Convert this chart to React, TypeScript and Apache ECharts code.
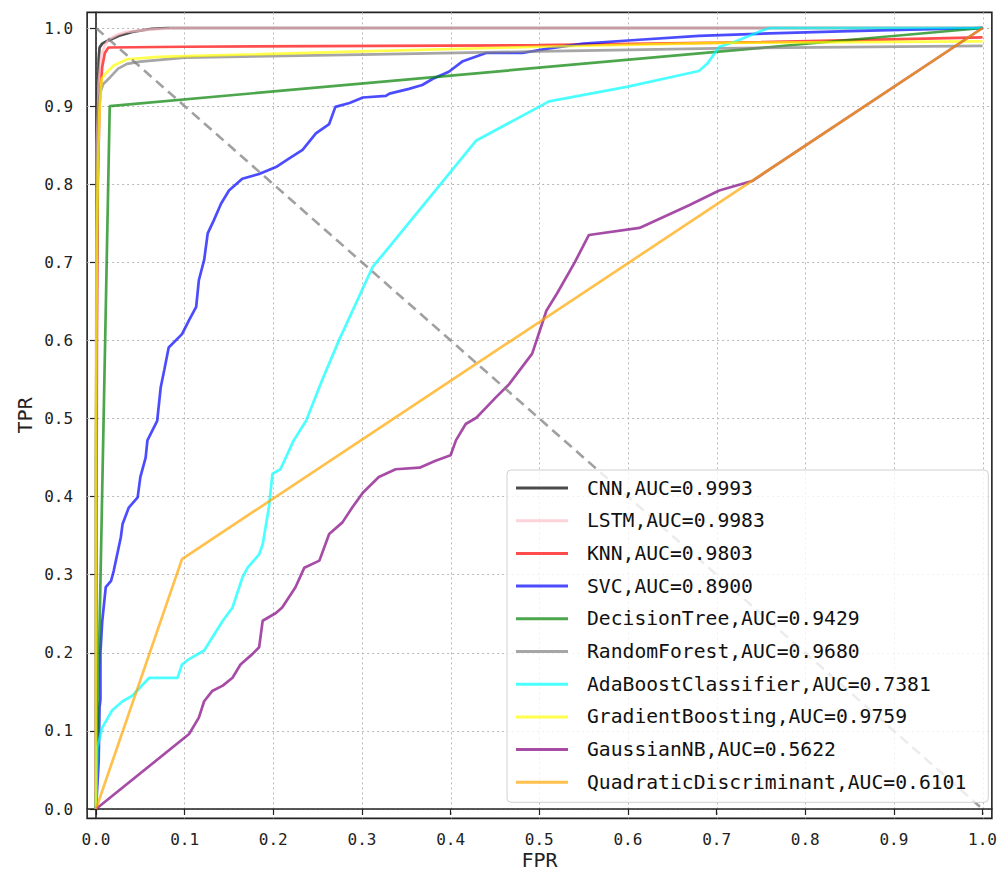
import React, { useEffect, useRef } from "react";
import * as echarts from "echarts";

// ---------- data ----------
const seriesNames = [
  "CNN,AUC=0.9993",
  "LSTM,AUC=0.9983",
  "KNN,AUC=0.9803",
  "SVC,AUC=0.8900",
  "DecisionTree,AUC=0.9429",
  "RandomForest,AUC=0.9680",
  "AdaBoostClassifier,AUC=0.7381",
  "GradientBoosting,AUC=0.9759",
  "GaussianNB,AUC=0.5622",
  "QuadraticDiscriminant,AUC=0.6101",
];

const seriesColors = [
  "rgba(0,0,0,0.7)",
  "rgba(255,192,203,0.7)",
  "rgba(255,0,0,0.7)",
  "rgba(0,0,255,0.7)",
  "rgba(0,128,0,0.7)",
  "rgba(128,128,128,0.7)",
  "rgba(0,255,255,0.7)",
  "rgba(255,255,0,0.7)",
  "rgba(128,0,128,0.7)",
  "rgba(255,165,0,0.7)",
];

const cnnRoc = [
  [0, 0], [0, 0.45], [0.001, 0.75], [0.002, 0.9], [0.003, 0.96], [0.004, 0.975],
  [0.007, 0.98], [0.012, 0.983], [0.018, 0.986], [0.026, 0.99], [0.041, 0.995],
  [0.063, 0.999], [0.08, 1], [1, 1],
];
const lstmRoc = [
  [0, 0], [0, 0.6], [0.001, 0.85], [0.003, 0.93], [0.006, 0.965], [0.01, 0.978],
  [0.015, 0.986], [0.025, 0.992], [0.034, 0.995], [0.06, 0.998], [0.09, 1], [1, 1],
];
const knnRoc = [
  [0, 0], [0.001, 0.6], [0.002, 0.8], [0.004, 0.9], [0.007, 0.95], [0.01, 0.968],
  [0.014, 0.975], [0.1, 0.976], [0.5, 0.978], [0.75, 0.982], [1, 0.988],
];
const svcRoc = [
  [0, 0], [0.003, 0.06], [0.004, 0.13], [0.005, 0.14], [0.005, 0.2], [0.007, 0.24],
  [0.011, 0.284], [0.017, 0.292], [0.02, 0.305], [0.028, 0.348], [0.03, 0.365],
  [0.037, 0.386], [0.047, 0.399], [0.05, 0.425], [0.056, 0.45], [0.058, 0.472],
  [0.069, 0.497], [0.073, 0.54], [0.077, 0.562], [0.082, 0.591], [0.097, 0.608],
  [0.105, 0.626], [0.113, 0.643], [0.116, 0.677], [0.122, 0.703], [0.126, 0.737],
  [0.133, 0.754], [0.141, 0.775], [0.15, 0.792], [0.165, 0.807], [0.184, 0.813],
  [0.203, 0.822], [0.218, 0.833], [0.233, 0.844], [0.248, 0.865], [0.263, 0.877],
  [0.27, 0.899], [0.286, 0.904], [0.301, 0.911], [0.327, 0.913], [0.331, 0.916],
  [0.353, 0.922], [0.368, 0.927], [0.38, 0.935], [0.398, 0.944], [0.413, 0.957],
  [0.44, 0.968], [0.481, 0.968], [0.511, 0.974], [0.55, 0.98], [0.6, 0.984],
  [0.68, 0.99], [0.76, 0.993], [0.85, 0.996], [1, 1],
];
const treeRoc = [[0, 0], [0.0155, 0.9], [1, 1]];
const forestRoc = [
  [0, 0], [0, 0.4], [0.001, 0.7], [0.002, 0.82], [0.003, 0.9], [0.0045, 0.916],
  [0.008, 0.928], [0.016, 0.937], [0.025, 0.948], [0.035, 0.954], [0.05, 0.957],
  [0.1, 0.962], [0.3, 0.966], [0.5, 0.97], [0.7, 0.974], [1, 0.977],
];
const adaRoc = [
  [0, 0], [0, 0.006], [0.0015, 0.079], [0.007, 0.104], [0.018, 0.126], [0.03, 0.138],
  [0.041, 0.145], [0.06, 0.168], [0.092, 0.168], [0.097, 0.185], [0.105, 0.192],
  [0.122, 0.203], [0.143, 0.241], [0.154, 0.258], [0.165, 0.296], [0.171, 0.309],
  [0.184, 0.326], [0.188, 0.339], [0.195, 0.386], [0.199, 0.429], [0.208, 0.435],
  [0.223, 0.472], [0.237, 0.497], [0.255, 0.549], [0.274, 0.6], [0.312, 0.694],
  [0.331, 0.72], [0.429, 0.856], [0.511, 0.906], [0.6, 0.925], [0.68, 0.945],
  [0.69, 0.955], [0.703, 0.976], [0.72, 0.982], [0.752, 0.997], [0.76, 1], [1, 1],
];
const gbRoc = [
  [0, 0], [0, 0.5], [0.001, 0.73], [0.002, 0.82], [0.004, 0.898], [0.0064, 0.935],
  [0.012, 0.943], [0.02, 0.952], [0.035, 0.96], [0.07, 0.963], [0.1, 0.964],
  [0.3, 0.97], [0.5, 0.976], [0.7, 0.981], [1, 0.983],
];
const gnbRoc = [
  [0, 0], [0.105, 0.096], [0.116, 0.117], [0.122, 0.138], [0.131, 0.151], [0.143, 0.158],
  [0.154, 0.168], [0.163, 0.185], [0.176, 0.198], [0.184, 0.207], [0.188, 0.241],
  [0.203, 0.251], [0.21, 0.258], [0.225, 0.284], [0.235, 0.309], [0.252, 0.318],
  [0.263, 0.352], [0.278, 0.367], [0.289, 0.386], [0.301, 0.405], [0.319, 0.425],
  [0.338, 0.435], [0.365, 0.437], [0.383, 0.446], [0.4, 0.453], [0.406, 0.472],
  [0.417, 0.493], [0.429, 0.501], [0.44, 0.514], [0.451, 0.527], [0.466, 0.544],
  [0.492, 0.583], [0.508, 0.638], [0.52, 0.66], [0.54, 0.7], [0.556, 0.735],
  [0.613, 0.744], [0.669, 0.773], [0.703, 0.792], [0.74, 0.804], [1, 1],
];
const qdaRoc = [[0, 0], [0.097, 0.32], [1, 1]];
const diagonal = [[0, 1], [1, 0]];

const rocData = [cnnRoc, lstmRoc, knnRoc, svcRoc, treeRoc, forestRoc, adaRoc, gbRoc, gnbRoc, qdaRoc];

// axis limits
const xLimits = [-0.01, 1.01];
const yLimits = [-0.012, 1.02];

// ---------- layout ----------
const X0 = 96, X1 = 983, Y0 = 809, Y1 = 28;
const XS = X1 - X0, YS = Y0 - Y1;
const frameLeft = X0 + xLimits[0] * XS;
const frameRight = X0 + xLimits[1] * XS;
const frameTop = Y0 - yLimits[1] * YS;
const frameBottom = Y0 - yLimits[0] * YS;

const MONO = '"DejaVu Sans Mono", "Liberation Mono", monospace';
const INK = "#222222";

export default function App() {
  const ref = useRef<HTMLDivElement>(null);
  useEffect(() => {
    if (!ref.current) return;
    const chart = echarts.init(ref.current, null, { renderer: "svg" });
    const gridLine = {
      show: true,
      showMinLine: false,
      showMaxLine: false,
      lineStyle: { color: "#b8b8b8", width: 1, type: [2, 3] as any },
    };
    const frameLine = { show: true, lineStyle: { color: INK, width: 1.6 } };
    const series: any[] = seriesNames.map((name, i) => ({
      name,
      type: "line",
      xAxisIndex: 1,
      yAxisIndex: 1,
      data: rocData[i],
      showSymbol: false,
      symbol: "none",
      clip: false,
      color: seriesColors[i],
      itemStyle: { color: seriesColors[i] },
      lineStyle: { color: seriesColors[i], width: 2.7 },
      z: 2 + i * 0.01,
    }));
    series.push({
      name: "diag",
      type: "line",
      xAxisIndex: 1,
      yAxisIndex: 1,
      data: diagonal,
      showSymbol: false,
      symbol: "none",
      clip: false,
      lineStyle: { color: "rgba(128,128,128,0.75)", width: 2.6, type: [10, 6] },
      z: 3,
    });
    chart.setOption({
      animation: false,
      backgroundColor: "#ffffff",
      grid: [
        {
          left: frameLeft,
          top: frameTop,
          width: frameRight - frameLeft,
          height: frameBottom - frameTop,
          show: true,
          borderColor: INK,
          borderWidth: 1.6,
          backgroundColor: "transparent",
        },
        { left: X0, top: Y1, width: XS, height: YS },
      ],
      xAxis: [
        {
          gridIndex: 0,
          type: "value",
          min: xLimits[0],
          max: xLimits[1],
          splitNumber: 10,
          axisLine: frameLine,
          axisTick: { show: false },
          axisLabel: { show: false },
          splitLine: gridLine,
          name: "FPR",
          nameLocation: "middle",
          nameGap: 32,
          nameTextStyle: { fontFamily: MONO, fontSize: 20, color: INK },
        },
        {
          gridIndex: 1,
          type: "value",
          min: 0,
          max: 1,
          interval: 0.1,
          offset: frameBottom - Y0,
          axisLine: { show: false },
          axisTick: { show: true, length: 6, lineStyle: { color: INK, width: 1.2 } },
          axisLabel: {
            fontFamily: MONO,
            fontSize: 16,
            color: INK,
            margin: 13,
            formatter: (v: number) => v.toFixed(1),
          },
          splitLine: { show: false },
        },
      ],
      yAxis: [
        {
          gridIndex: 0,
          type: "value",
          min: yLimits[0],
          max: yLimits[1],
          splitNumber: 10,
          axisLine: frameLine,
          axisTick: { show: false },
          axisLabel: { show: false },
          splitLine: gridLine,
          name: "TPR",
          nameLocation: "middle",
          nameGap: 52,
          nameTextStyle: { fontFamily: MONO, fontSize: 20, color: INK },
        },
        {
          gridIndex: 1,
          type: "value",
          min: 0,
          max: 1,
          interval: 0.1,
          offset: X0 - frameLeft,
          axisLine: { show: false },
          axisTick: { show: true, length: 6, lineStyle: { color: INK, width: 1.2 } },
          axisLabel: {
            fontFamily: MONO,
            fontSize: 16,
            color: INK,
            margin: 14,
            formatter: (v: number) => v.toFixed(1),
          },
          splitLine: { show: false },
        },
      ],
      legend: {
        data: seriesNames,
        orient: "vertical",
        left: 507,
        top: 470,
        icon: "rect",
        itemWidth: 52,
        itemHeight: 3,
        itemGap: 10.7,
        padding: [7, 22, 9, 9],
        selectedMode: false,
        backgroundColor: "rgba(255,255,255,0.8)",
        borderColor: "#d0d0d0",
        borderWidth: 1,
        borderRadius: 4,
        textStyle: {
          fontFamily: MONO,
          fontSize: 19.7,
          color: "#111",
          lineHeight: 22,
          padding: [0, 0, 0, 14],
        },
      },
      series,
    });
    return () => chart.dispose();
  }, []);
  return (
    <div
      ref={ref}
      style={{ position: "fixed", left: 0, top: 0, width: 1000, height: 878 }}
    />
  );
}
